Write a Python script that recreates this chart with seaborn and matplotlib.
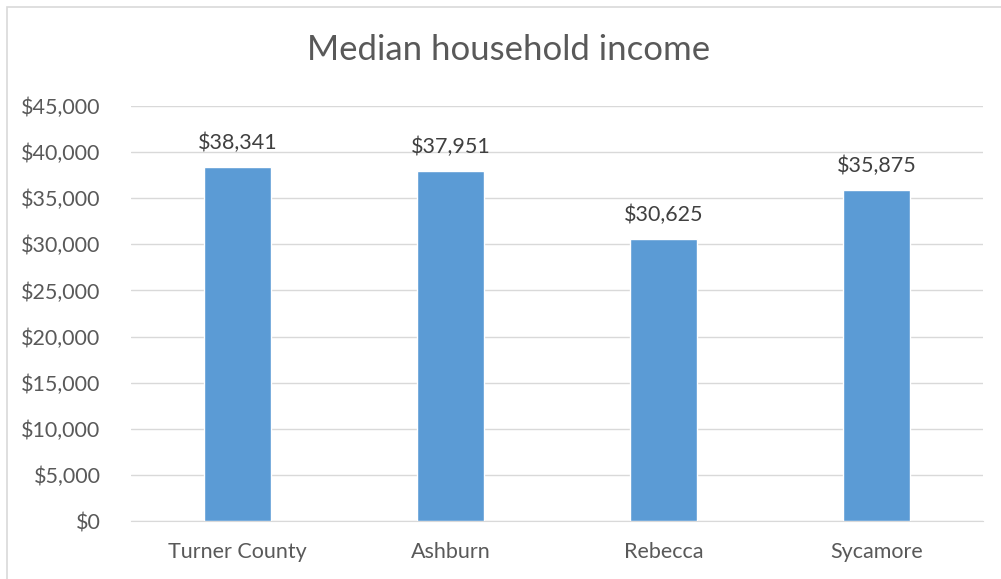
import matplotlib.pyplot as plt
import matplotlib.patches as mpatches
from matplotlib.ticker import FuncFormatter
import pandas as pd
import seaborn as sns

places = ['Turner County', 'Ashburn', 'Rebecca', 'Sycamore']
income = [38341, 37951, 30625, 35875]

df = pd.DataFrame({'place': places, 'income': income})

sns.set_style('white')
plt.rcParams['font.family'] = ['Lato', 'DejaVu Sans']

fig = plt.figure(figsize=(10.01, 5.79), dpi=100)
ax = fig.add_axes([131 / 1001, 1 - 521 / 579, 852 / 1001, 415 / 579])

sns.barplot(data=df, x='place', y='income', color='#5B9BD5', width=0.31,
            saturation=1, ax=ax, zorder=3)

ax.set_ylim(0, 45000)
ax.set_yticks(range(0, 45001, 5000))
ax.yaxis.set_major_formatter(FuncFormatter(lambda v, p: '${:,.0f}'.format(v)))
ax.grid(axis='y', color='#D9D9D9', linewidth=1, zorder=0)
ax.set_xlabel('')
ax.set_ylabel('')
for s in ['top', 'right', 'left']:
    ax.spines[s].set_visible(False)
ax.spines['bottom'].set_color('#D9D9D9')
ax.tick_params(axis='both', length=0, labelsize=15.5, colors='#595959')
ax.tick_params(axis='x', pad=15)
ax.tick_params(axis='y', pad=22)

# value labels
for c in ax.containers:
    ax.bar_label(c, labels=['${:,.0f}'.format(v) for v in income],
                 padding=10, fontsize=15.5, color='#404040')

fig.text(0.508, 1 - 50 / 579, 'Median household income', ha='center', va='center',
         fontsize=25, color='#595959')

# chart border
fig.patches.append(mpatches.Rectangle((7 / 1001, -0.01), 1.02, 1 - 7 / 579 + 0.01,
                                      transform=fig.transFigure, fill=False,
                                      edgecolor='#D9D9D9', linewidth=1.2))

fig.savefig('out.png', dpi=100, facecolor='white')
